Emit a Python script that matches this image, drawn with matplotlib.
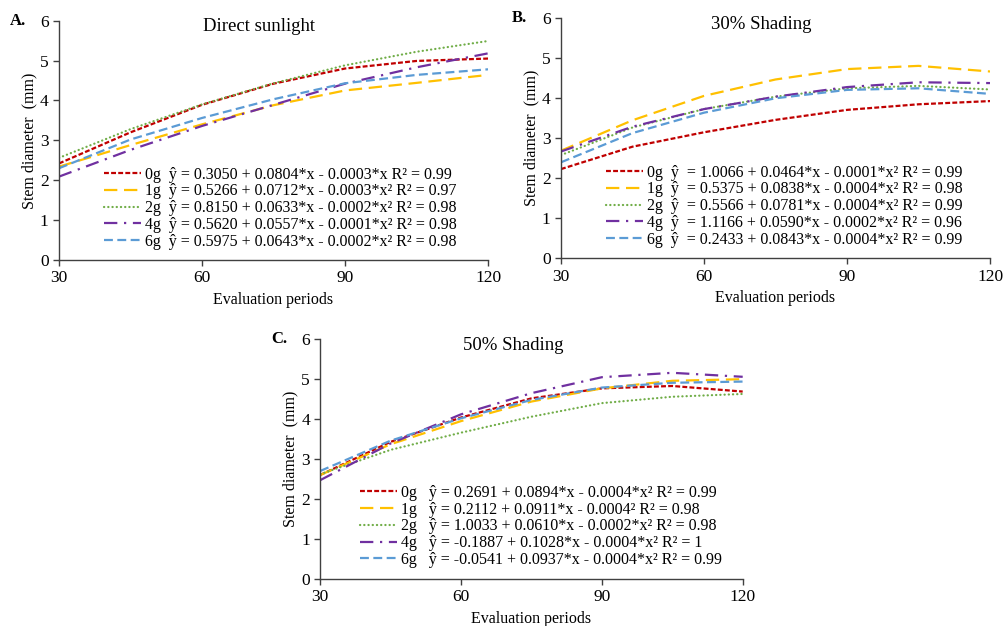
import matplotlib
matplotlib.use("Agg")
import matplotlib.pyplot as plt

days = [30, 45, 60, 75, 90, 105, 120]

# Panel A - Direct sunlight
a_0g = [2.42, 3.20, 3.89, 4.42, 4.80, 4.99, 5.05]
a_1g = [2.34, 2.88, 3.40, 3.88, 4.25, 4.44, 4.64]
a_2g = [2.56, 3.28, 3.90, 4.43, 4.88, 5.22, 5.49]
a_4g = [2.09, 2.76, 3.36, 3.89, 4.42, 4.83, 5.18]
a_6g = [2.30, 3.02, 3.56, 4.03, 4.43, 4.64, 4.78]

# Panel B - 30% Shading
b_0g = [2.23, 2.79, 3.15, 3.46, 3.71, 3.85, 3.93]
b_1g = [2.69, 3.45, 4.06, 4.47, 4.73, 4.81, 4.67]
b_2g = [2.58, 3.27, 3.73, 4.04, 4.25, 4.31, 4.22]
b_4g = [2.67, 3.29, 3.73, 4.04, 4.28, 4.40, 4.38]
b_6g = [2.40, 3.13, 3.64, 4.00, 4.21, 4.25, 4.11]

# Panel C - 50% Shading
c_0g = [2.60, 3.43, 4.04, 4.52, 4.77, 4.83, 4.69]
c_1g = [2.60, 3.37, 3.95, 4.44, 4.77, 4.96, 5.00]
c_2g = [2.62, 3.23, 3.66, 4.06, 4.40, 4.56, 4.63]
c_4g = [2.47, 3.39, 4.12, 4.65, 5.05, 5.16, 5.06]
c_6g = [2.70, 3.46, 4.02, 4.48, 4.79, 4.91, 4.94]

labels_a = [
    "0g  ŷ = 0.3050 + 0.0804*x - 0.0003*x R² = 0.99",
    "1g  ŷ = 0.5266 + 0.0712*x - 0.0003*x² R² = 0.97",
    "2g  ŷ = 0.8150 + 0.0633*x - 0.0002*x² R² = 0.98",
    "4g  ŷ = 0.5620 + 0.0557*x - 0.0001*x² R² = 0.98",
    "6g  ŷ = 0.5975 + 0.0643*x - 0.0002*x² R² = 0.98",
]
labels_b = [
    "0g  ŷ  = 1.0066 + 0.0464*x - 0.0001*x² R² = 0.99",
    "1g  ŷ  = 0.5375 + 0.0838*x - 0.0004*x² R² = 0.98",
    "2g  ŷ  = 0.5566 + 0.0781*x - 0.0004*x² R² = 0.99",
    "4g  ŷ  = 1.1166 + 0.0590*x - 0.0002*x² R² = 0.96",
    "6g  ŷ  = 0.2433 + 0.0843*x - 0.0004*x² R² = 0.99",
]
labels_c = [
    "0g   ŷ = 0.2691 + 0.0894*x - 0.0004*x² R² = 0.99",
    "1g   ŷ = 0.2112 + 0.0911*x - 0.0004² R² = 0.98",
    "2g   ŷ = 1.0033 + 0.0610*x - 0.0002*x² R² = 0.98",
    "4g   ŷ = -0.1887 + 0.1028*x - 0.0004*x² R² = 1",
    "6g   ŷ = -0.0541 + 0.0937*x - 0.0004*x² R² = 0.99",
]

colors = ["#C00000", "#FFC000", "#70AD47", "#7030A0", "#5B9BD5"]
dashes = [(2.2, 1.0), (6.0, 3.0), (0.1, 1.8), (6.0, 3.0, 1.0, 3.0), (4.0, 2.0)]

plt.rcParams['font.family'] = ['Liberation Serif', 'DejaVu Serif']

fig = plt.figure(figsize=(10.05, 6.26), dpi=100)

panels = [
    ([0.0587, 0.5847, 0.4269, 0.3823], "Direct sunlight", "A.", [a_0g, a_1g, a_2g, a_4g, a_6g], labels_a, (0.105, 0.39), (0.467, 0.974)),
    ([0.5582, 0.5874, 0.4269, 0.3834], "30% Shading", "B.", [b_0g, b_1g, b_2g, b_4g, b_6g], labels_b, (0.105, 0.39), (0.467, 0.972)),
    ([0.3187, 0.0756, 0.4203, 0.3824], "50% Shading", "C.", [c_0g, c_1g, c_2g, c_4g, c_6g], labels_c, (0.095, 0.392), (0.457, 0.972)),
]

for rect, title, tag, series, labels, anchor, tpos in panels:
    ax = fig.add_axes(rect)
    for vals, lab, col, d in zip(series, labels, colors, dashes):
        ln, = ax.plot(days, vals, color=col, lw=1.6, label=lab)
        ln.set_dashes(d)
        if d == (0.1, 1.8):
            ln.set_dash_capstyle('round')
    ax.set_xlim(30, 120)
    ax.set_ylim(0, 6)
    ax.set_xticks([30, 60, 90, 120])
    ax.set_yticks([0, 1, 2, 3, 4, 5, 6])
    ax.tick_params(labelsize=12.5, direction='out', length=4, width=1, colors='#404040', labelcolor='black')
    for s in ['top', 'right']:
        ax.spines[s].set_visible(False)
    for s in ['left', 'bottom']:
        ax.spines[s].set_color('#404040')
        ax.spines[s].set_linewidth(1)
    ax.set_xlabel("Evaluation periods", fontsize=11.5, labelpad=4)
    ax.set_ylabel("Stem diameter  (mm)", fontsize=11.5, labelpad=2)
    ax.text(tpos[0], tpos[1], title, transform=ax.transAxes, ha='center', va='center', fontsize=13.5)
    ax.text(-0.115, 1.0, tag, transform=ax.transAxes, ha='left', va='center', fontsize=12, fontweight='bold')
    ax.legend(loc='upper left', bbox_to_anchor=anchor, frameon=False, fontsize=11.5,
              handlelength=2.3, handletextpad=0.25, labelspacing=0.05, borderpad=0, borderaxespad=0)

fig.savefig("out.png", dpi=100)
